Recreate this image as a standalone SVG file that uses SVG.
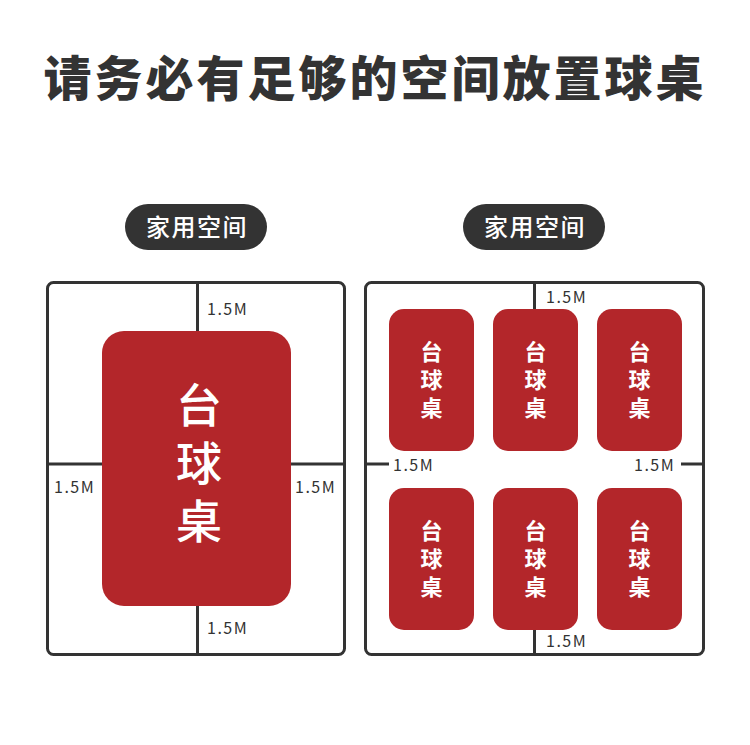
<svg xmlns="http://www.w3.org/2000/svg" width="750" height="745" viewBox="0 0 750 745">
<style>
.frame{fill:none;stroke:#333;stroke-width:3}
.ln{stroke:#333;stroke-width:3;fill:none}
.tbl{fill:#b3262a}
.dim{font-family:"Noto Sans CJK SC","Noto Sans",sans-serif;font-size:16px;fill:#333;letter-spacing:1.5px}
.pill{fill:#333}
.pt{font-family:"Noto Sans CJK SC",sans-serif;font-size:24px;fill:#fff;text-anchor:middle;letter-spacing:1.5px;font-weight:500}
.big{font-family:"Noto Sans CJK SC",sans-serif;font-size:46px;fill:#fff;font-weight:500;writing-mode:vertical-rl;letter-spacing:12px}
.sm{font-family:"Noto Sans CJK SC",sans-serif;font-size:22px;fill:#fff;font-weight:700;writing-mode:vertical-rl;letter-spacing:6px}
</style>
<rect width="750" height="745" fill="#fff"/>
<text x="375" y="96" text-anchor="middle" font-family="Noto Sans CJK SC, sans-serif" font-weight="900" font-size="48" fill="#333" letter-spacing="3">请务必有足够的空间放置球桌</text>

<g id="pill-left"><rect class="pill" x="125" y="204" width="142" height="46" rx="23"/><text class="pt" x="197" y="236">家用空间</text></g>
<g id="pill-right"><rect class="pill" x="463" y="204" width="142" height="46" rx="23"/><text class="pt" x="535" y="236">家用空间</text></g>

<g id="connectors">
<line class="ln" x1="197.5" y1="283" x2="197.5" y2="331"/>
<line class="ln" x1="197.5" y1="606" x2="197.5" y2="654"/>
<line class="ln" x1="48" y1="464" x2="102" y2="464"/>
<line class="ln" x1="291" y1="464" x2="344" y2="464"/>
<line class="ln" x1="534.5" y1="283" x2="534.5" y2="309"/>
<line class="ln" x1="534.5" y1="630" x2="534.5" y2="655"/>
<line class="ln" x1="367" y1="464" x2="389" y2="464"/>
<line class="ln" x1="681" y1="464" x2="703" y2="464"/>
</g>

<g id="room-left">
<rect class="frame" x="47.5" y="282.5" width="297" height="372" rx="6"/>
<text class="dim" x="207" y="315">1.5M</text>
<text class="dim" x="54" y="493">1.5M</text>
<text class="dim" x="295" y="493">1.5M</text>
<text class="dim" x="207" y="634">1.5M</text>
</g>
<g id="table-big">
<rect class="tbl" x="102" y="331" width="189" height="275" rx="22"/>
<text class="big" x="199" y="382">台球桌</text>
</g>

<g id="room-right">
<rect class="frame" x="365.5" y="282.5" width="338" height="372" rx="6"/>
<text class="dim" x="546" y="303">1.5M</text>
<text class="dim" x="393" y="471">1.5M</text>
<text class="dim" x="634" y="471">1.5M</text>
<text class="dim" x="546" y="647">1.5M</text>
</g>
<g id="t1"><rect class="tbl" x="389" y="309" width="85" height="142" rx="15"/><text class="sm" x="431.5" y="341">台球桌</text></g>
<g id="t2"><rect class="tbl" x="493" y="309" width="85" height="142" rx="15"/><text class="sm" x="535.5" y="341">台球桌</text></g>
<g id="t3"><rect class="tbl" x="597" y="309" width="85" height="142" rx="15"/><text class="sm" x="639.5" y="341">台球桌</text></g>
<g id="t4"><rect class="tbl" x="389" y="488" width="85" height="142" rx="15"/><text class="sm" x="431.5" y="520">台球桌</text></g>
<g id="t5"><rect class="tbl" x="493" y="488" width="85" height="142" rx="15"/><text class="sm" x="535.5" y="520">台球桌</text></g>
<g id="t6"><rect class="tbl" x="597" y="488" width="85" height="142" rx="15"/><text class="sm" x="639.5" y="520">台球桌</text></g>
</svg>
